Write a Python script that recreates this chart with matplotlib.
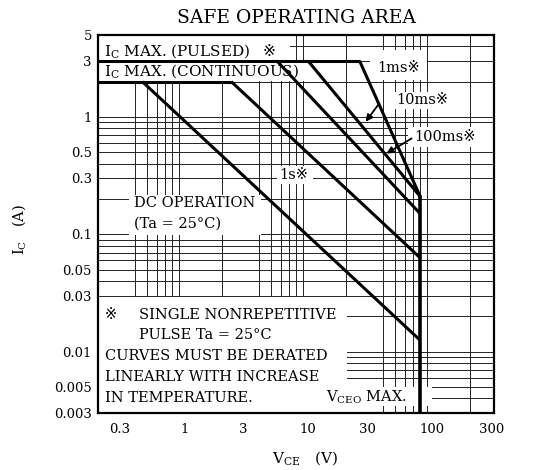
import numpy as np
import matplotlib
matplotlib.use("Agg")
import matplotlib.pyplot as plt
from matplotlib.ticker import LogLocator, NullFormatter, FixedLocator
from matplotlib.patches import Rectangle

plt.rcParams['font.family'] = ['DejaVu Serif', 'DejaVu Sans', 'Noto Sans CJK JP']
plt.rcParams['mathtext.fontset'] = 'custom'
plt.rcParams['mathtext.rm'] = 'DejaVu Serif'

# ---- data ----
x_ticks = [0.3, 1, 3, 10, 30, 100, 300]
x_tick_labels = ["0.3", "1", "3", "10", "30", "100", "300"]
y_ticks = [0.003, 0.005, 0.01, 0.03, 0.05, 0.1, 0.3, 0.5, 1, 3, 5]
y_tick_labels = ["0.003", "0.005", "0.01", "0.03", "0.05", "0.1", "0.3", "0.5", "1", "3", "5"]

ic_pulsed_v = [0.2, 26]
ic_pulsed_i = [3, 3]
ic_cont_v = [0.2, 2.4]
ic_cont_i = [2, 2]
dc_v = [0.46, 80]
dc_i = [2, 0.0125]
s1_v = [2.4, 80]
s1_i = [2, 0.063]
ms100_v = [5.6, 80]
ms100_i = [3, 0.15]
ms10_v = [10, 80]
ms10_i = [3, 0.21]
ms1_v = [26, 80]
ms1_i = [3, 0.21]
vceo_v = [80, 80]
vceo_i = [0.21, 0.003]

W, H = 546, 470
fig = plt.figure(figsize=(W / 100, H / 100), dpi=100)
ax = fig.add_axes([97.5 / W, (H - 413) / H, 396.5 / W, 378 / H])
ax.set_xscale('log')
ax.set_yscale('log')
ax.set_xlim(0.2, 315)
ax.set_ylim(0.003, 5)

ax.xaxis.set_major_locator(FixedLocator(x_ticks))
ax.set_xticklabels(x_tick_labels)
ax.yaxis.set_major_locator(FixedLocator(y_ticks))
ax.set_yticklabels(y_tick_labels)
ax.xaxis.set_minor_locator(LogLocator(base=10, subs=np.arange(1, 10), numticks=30))
ax.yaxis.set_minor_locator(LogLocator(base=10, subs=np.arange(1, 10), numticks=30))
ax.xaxis.set_minor_formatter(NullFormatter())
ax.yaxis.set_minor_formatter(NullFormatter())
ax.tick_params(which='both', length=0, labelsize=9.5, colors='black')
ax.tick_params(axis='x', pad=7)
ax.tick_params(axis='y', pad=4)
ax.grid(which='minor', color='#222222', lw=0.7)
ax.grid(which='major', axis='y', color='#222222', lw=0.7)
ax.set_axisbelow(True)
for s in ax.spines.values():
    s.set_linewidth(1.6)
    s.set_zorder(6)

def P(px, py):
    return ((px - 97.5) / 396.5, (413 - py) / 378)

def box(x0, y0, x1, y1):
    (ax0, ay1) = P(x0, y0)
    (ax1, ay0) = P(x1, y1)
    ax.add_patch(Rectangle((ax0, ay0), ax1 - ax0, ay1 - ay0, transform=ax.transAxes,
                           facecolor='white', edgecolor='none', zorder=2))

box(97.5, 36, 290, 61)
box(97.5, 63, 305, 81)
box(370, 50, 427, 80)
box(392, 92, 470, 109)
box(408, 127, 493, 147)
box(277, 166, 313, 184)
box(129, 195, 261, 235)
box(97.5, 297, 347, 413)
box(324, 387, 432, 406)

lw = 2.2
for v, i in [(ic_pulsed_v, ic_pulsed_i), (ic_cont_v, ic_cont_i), (dc_v, dc_i), (s1_v, s1_i),
             (ms100_v, ms100_i), (ms10_v, ms10_i), (ms1_v, ms1_i)]:
    ax.plot(v, i, color='black', lw=lw, solid_capstyle='butt', zorder=4)
ax.plot(vceo_v, vceo_i, color='black', lw=2.6, zorder=4)

fs = 10.5
def T(px, py, s, **kw):
    x, y = P(px, py)
    ax.text(x, y, s, transform=ax.transAxes, fontsize=kw.pop('fontsize', fs), va='center',
            ha=kw.pop('ha', 'left'), zorder=7, **kw)

T(104, 51.5, r"$\mathrm{I_C}$ MAX. (PULSED)", fontsize=11)
T(262, 51.5, "※", fontsize=11)
T(104, 71.5, r"$\mathrm{I_C}$ MAX. (CONTINUOUS)", fontsize=11)
T(377, 68, "1ms※")
T(396, 100, "10ms※")
T(414, 137, "100ms※")
T(279, 175, "1s※")
T(134, 203, "DC OPERATION")
T(134, 224, "(Ta = 25°C)")
T(105, 315, "※")
T(139, 315, "SINGLE NONREPETITIVE")
T(139, 335, "PULSE Ta = 25°C")
T(105, 356.5, "CURVES MUST BE DERATED")
T(105, 377, "LINEARLY WITH INCREASE")
T(105, 398, "IN TEMPERATURE.")
T(326, 397, r"$\mathrm{V_{CEO}}$ MAX.")

def arrow(x0, y0, x1, y1):
    ax.annotate("", xy=P(x1, y1), xytext=P(x0, y0), xycoords='axes fraction',
                textcoords='axes fraction',
                arrowprops=dict(arrowstyle='-|>', color='black', lw=1.3,
                                mutation_scale=10), zorder=7)

arrow(381, 101, 364, 124)
arrow(414, 137, 384, 155)

fig.text(296 / W, 1 - 18 / H, "SAFE OPERATING AREA", ha='center', va='center', fontsize=13.5)
fig.text(19 / W, 1 - 230 / H, r"$\mathrm{I_C}$   (A)", ha='center', va='center', rotation=90, fontsize=10.5)
fig.text(305 / W, 1 - 458 / H, r"$\mathrm{V_{CE}}$   (V)", ha='center', va='center', fontsize=11)

fig.savefig("out.png", dpi=100, facecolor='white')
